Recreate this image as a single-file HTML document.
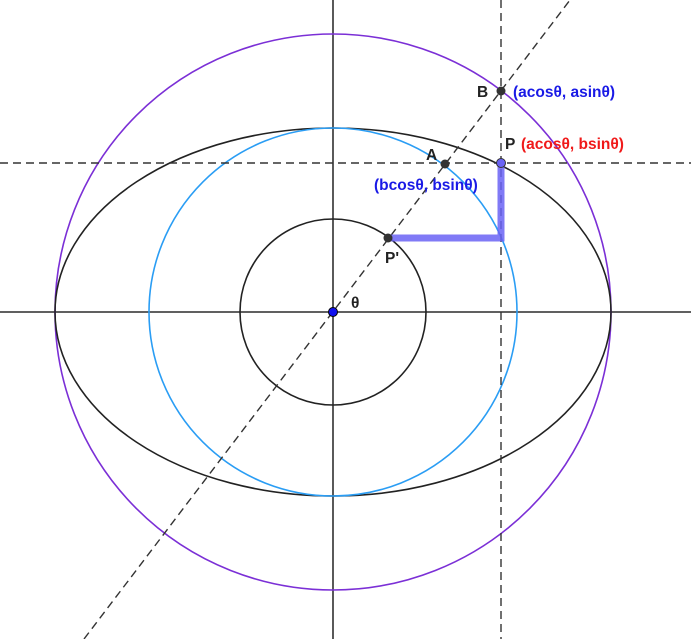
<!DOCTYPE html>
<html><head><style>html,body{margin:0;padding:0;background:#fff;}svg{display:block}</style></head>
<body>
<svg width="691" height="639" viewBox="0 0 691 639" xmlns="http://www.w3.org/2000/svg" font-family="Liberation Sans, sans-serif" font-weight="bold">
<line x1="0" y1="312" x2="691" y2="312" stroke="#000" stroke-width="1.3"/>
<line x1="333" y1="0" x2="333" y2="639" stroke="#000" stroke-width="1.3"/>
<circle cx="333" cy="312" r="278" fill="none" stroke="#7b2fd6" stroke-width="1.6"/>
<ellipse cx="333" cy="312" rx="278" ry="184" fill="none" stroke="#222" stroke-width="1.6"/>
<circle cx="333" cy="312" r="184" fill="none" stroke="#2a9df4" stroke-width="1.6"/>
<circle cx="333" cy="312" r="93" fill="none" stroke="#222" stroke-width="1.6"/>
<g stroke="#333" stroke-width="1.4" stroke-dasharray="8,5">
<line x1="501" y1="0" x2="501" y2="639"/>
<line x1="0" y1="163" x2="691" y2="163"/>
<line x1="84" y1="639" x2="570" y2="0"/>
</g>
<polyline points="388,238 501,238 501,163" fill="none" stroke="#6a63f5" stroke-width="7" stroke-opacity="0.85"/>
<circle cx="501" cy="91" r="4.5" fill="#333"/>
<circle cx="445" cy="164" r="4.5" fill="#333"/>
<circle cx="388" cy="238" r="4.5" fill="#333"/>
<circle cx="501" cy="163" r="4.5" fill="#6a63f5" stroke="#333" stroke-width="1"/>
<circle cx="333" cy="312" r="4.5" fill="#1010ee" stroke="#000" stroke-width="1"/>
<g font-size="15.5">
<text x="477" y="97" fill="#222">B</text>
<text x="513" y="97" fill="#1a1ae6">(acosθ, asinθ)</text>
<text x="505" y="149" fill="#222">P</text>
<text x="521" y="149" fill="#f01a1a">(acosθ, bsinθ)</text>
<text x="426" y="160" fill="#222">A</text>
<text x="374" y="190" fill="#1a1ae6">(bcosθ, bsinθ)</text>
<text x="385" y="263" fill="#222">P'</text>
<text x="351" y="308" fill="#222">θ</text>
</g>
</svg>
</body></html>
